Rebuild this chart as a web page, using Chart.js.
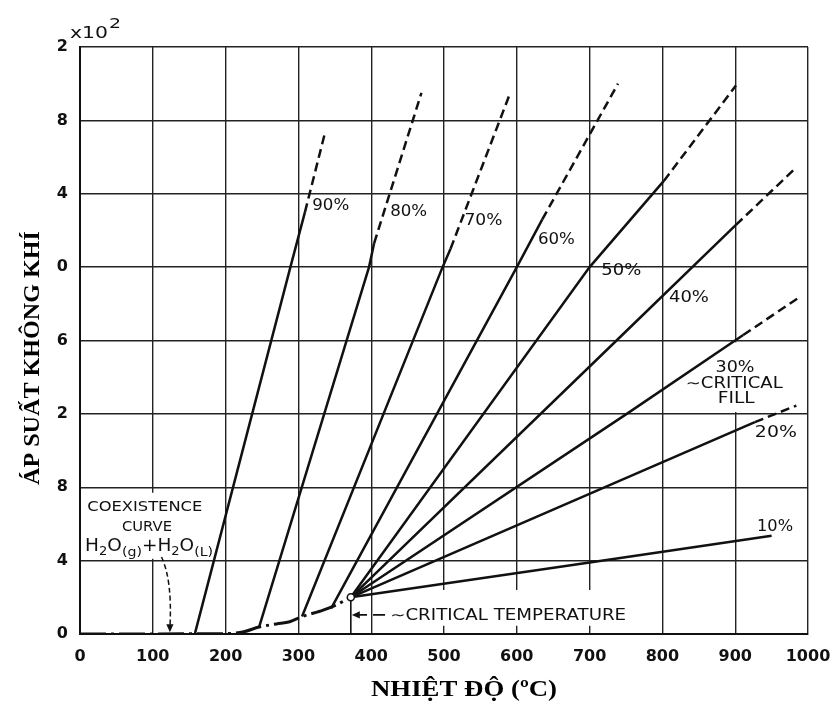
<!DOCTYPE html>
<html>
<head>
<meta charset="utf-8">
<script src="https://cdn.jsdelivr.net/npm/chart.js@4.4.1/dist/chart.umd.min.js"></script>
<style>
  html, body { margin: 0; background: #fff; }
  #wrap { width: 834px; height: 711px; }
</style>
</head>
<body>
<div id="wrap"><canvas id="chart"></canvas></div>
<script>
'use strict';

// axes
const X_MIN = 0, X_MAX = 1000, X_STEP = 100;
const Y_MIN = 0, Y_MAX = 32, Y_STEP = 4;

// coexistence curve H2O(g) + H2O(L), temperature (°C) / pressure
const COEX_T = [0, 200, 225, 246, 270, 288, 305, 334, 350, 372];
const COEX_P = [0, 0.02, 0.12, 0.38, 0.55, 0.67, 0.95, 1.3, 1.55, 2.0];

// isochores by fill
const FILL_LABELS = ['90%', '80%', '70%', '60%', '50%', '40%', '30%', '20%', '10%'];
const FILL_T = [
  [158, 289, 309, 337],
  [246, 397, 404, 469],
  [305, 498, 509, 591],
  [345, 600, 635, 739],
  [372, 700, 802, 901],
  [372, 737, 901, 983],
  [372, 751, 911, 986],
  [372, 927, 984],
  [372, 700, 950]
];
const FILL_P = [
  [0.05, 20, 23, 27.4],
  [0.38, 20, 21.3, 29.5],
  [0.95, 20, 21, 29.5],
  [1.4, 20, 22.6, 30.0],
  [2.0, 20, 24.7, 29.9],
  [2.0, 16, 22.3, 25.4],
  [2.0, 12, 16.3, 18.3],
  [2.0, 11.55, 12.45],
  [2.0, 3.9, 5.36]
];
// index of the point from which the line turns dashed (-1 = never)
const DASH_FROM = [2, 2, 2, 2, 2, 2, 2, 1, -1];

const CRIT_T = 372, CRIT_P = 2.0;

// label anchors (left edge, middle) in data units, and target widths in px
const LABEL_AT = [
  [319, 23.3], [426, 23.0], [528, 22.5], [629, 21.5], [716, 19.8],
  [809, 18.3], [873, 14.5], [927, 10.95], [930, 5.85]
];
const LABEL_W = [37, 37, 38, 37, 40, 40, 39, 42, 36];

const INK = '#111';
const el = id => document.getElementById(id);

function fitText(ctx, text, x, y, w, align) {
  const m = ctx.measureText(text).width;
  ctx.save();
  ctx.translate(x, y);
  ctx.scale(w / m, 1);
  ctx.textAlign = 'left';
  const x0 = align === 'center' ? -m / 2 : 0;
  ctx.fillText(text, x0, 0);
  ctx.restore();
}

function arrowHead(ctx, x, y, angle, size) {
  ctx.save();
  ctx.translate(x, y);
  ctx.rotate(angle);
  ctx.beginPath();
  ctx.moveTo(0, 0);
  ctx.lineTo(-size, -size * 0.45);
  ctx.lineTo(-size, size * 0.45);
  ctx.closePath();
  ctx.fill();
  ctx.restore();
}

const annotations = {
  id: 'annotations',
  beforeDatasetsDraw(chart) {
    const { ctx, scales: { x, y } } = chart;
    const box = (t0, t1, p0, p1) => {
      const l = x.getPixelForValue(t0), r = x.getPixelForValue(t1);
      const tp = y.getPixelForValue(p1), bt = y.getPixelForValue(p0);
      ctx.fillRect(l, tp, r - l, bt - tp);
    };
    ctx.save();
    ctx.fillStyle = '#fff';
    box(3, 182, 4.1, 7.7);      // coexistence text
    box(406, 760, 0.45, 2.4);   // critical temperature text
    box(830, 965, 12.1, 15.9);  // critical fill text
    ctx.restore();
  },
  afterDatasetsDraw(chart) {
    const { ctx, scales: { x, y } } = chart;
    const px = v => x.getPixelForValue(v);
    const py = v => y.getPixelForValue(v);
    ctx.save();
    ctx.fillStyle = INK;
    ctx.strokeStyle = INK;
    ctx.textBaseline = 'middle';

    // fill labels
    ctx.font = '15px "DejaVu Sans"';
    FILL_LABELS.forEach((name, i) => {
      fitText(ctx, name, px(LABEL_AT[i][0]), py(LABEL_AT[i][1]), LABEL_W[i], 'left');
    });
    fitText(ctx, '\u223CCRITICAL', px(832), py(13.6), 97, 'left');
    fitText(ctx, 'FILL', px(876), py(12.8), 37, 'left');

    // coexistence note
    ctx.font = '14px "DejaVu Sans"';
    fitText(ctx, 'COEXISTENCE', px(89), py(6.9), 115, 'center');
    fitText(ctx, 'CURVE', px(92), py(5.8), 50, 'center');
    ctx.textBaseline = 'alphabetic';
    const parts = [['H', 17, 0], ['2', 12, 4], ['O', 17, 0], ['(g)', 13, 5], ['+', 17, 0],
                   ['H', 17, 0], ['2', 12, 4], ['O', 17, 0], ['(L)', 13, 5]];
    let total = 0;
    parts.forEach(p => { ctx.font = p[1] + 'px "DejaVu Sans"'; total += ctx.measureText(p[0]).width; });
    const k = 128 / total;
    let cx = px(7);
    const base = py(4.5);
    parts.forEach(p => {
      ctx.font = p[1] + 'px "DejaVu Sans"';
      const w = ctx.measureText(p[0]).width;
      ctx.save();
      ctx.translate(cx, base + p[2]);
      ctx.scale(k, 1);
      ctx.fillText(p[0], 0, 0);
      ctx.restore();
      cx += w * k;
    });

    // coexistence arrow
    ctx.lineWidth = 1.5;
    ctx.setLineDash([5, 3]);
    ctx.beginPath();
    ctx.moveTo(px(112), py(4.2));
    ctx.quadraticCurveTo(px(127), py(2.9), px(123.5), py(0.35));
    ctx.stroke();
    ctx.setLineDash([]);
    arrowHead(ctx, px(123.5), py(0.1), Math.PI / 2, 8);

    // critical temperature
    ctx.lineWidth = 1.6;
    ctx.beginPath();
    ctx.moveTo(px(CRIT_T), py(CRIT_P) + 3);
    ctx.lineTo(px(CRIT_T), py(0));
    ctx.stroke();
    ctx.setLineDash([12, 6]);
    ctx.beginPath();
    ctx.moveTo(px(419), py(1.04));
    ctx.lineTo(px(CRIT_T) + 6, py(1.04));
    ctx.stroke();
    ctx.setLineDash([]);
    arrowHead(ctx, px(CRIT_T) + 1, py(1.04), Math.PI, 8);
    ctx.textBaseline = 'middle';
    ctx.font = '15px "DejaVu Sans"';
    fitText(ctx, '\u223CCRITICAL TEMPERATURE', px(426), py(1.0), 236, 'left');
    ctx.restore();
  },
  afterDraw(chart) {
    const { ctx } = chart;
    ctx.save();
    ctx.fillStyle = INK;
    ctx.textBaseline = 'alphabetic';
    ctx.font = '16px "DejaVu Sans"';
    fitText(ctx, 'x10', 70, 38, 38, 'left');
    ctx.font = '14px "DejaVu Sans"';
    fitText(ctx, '2', 109, 28, 12, 'left');

    ctx.fillStyle = '#000';
    ctx.textBaseline = 'middle';
    ctx.font = 'bold 23px "Liberation Serif"';
    fitText(ctx, 'NHIỆT ĐỘ (ºC)', 464, 690, 186, 'center');
    ctx.save();
    ctx.translate(33, 358);
    ctx.rotate(-Math.PI / 2);
    fitText(ctx, 'ÁP SUẤT KHÔNG KHÍ', 0, 0, 254, 'center');
    ctx.restore();
    ctx.restore();
  }
};

Chart.defaults.font.family = '"DejaVu Sans"';
Chart.defaults.color = INK;

const datasets = [
  {
    label: 'critical point',
    data: [{ x: CRIT_T, y: CRIT_P }],
    showLine: false,
    pointRadius: 3.5,
    pointBackgroundColor: '#fff',
    pointBorderColor: INK,
    pointBorderWidth: 1.5,
    order: -1
  },
  {
    label: 'coexistence',
    data: COEX_T.map((t, j) => ({ x: t, y: COEX_P[j] })),
    showLine: true,
    borderColor: INK,
    borderWidth: 3,
    borderDash: [26, 5, 3, 5],
    cubicInterpolationMode: 'monotone',
    pointRadius: 0
  },
  ...FILL_LABELS.map((name, i) => ({
    label: name,
    data: FILL_T[i].map((t, j) => ({ x: t, y: FILL_P[i][j] })),
    showLine: true,
    borderColor: INK,
    borderWidth: 2.5,
    pointRadius: 0,
    segment: {
      borderDash: ctx => (DASH_FROM[i] >= 0 && ctx.p0DataIndex >= DASH_FROM[i]) ? [9, 5] : undefined
    }
  }))
];

const axisCommon = {
  type: 'linear',
  grid: { color: '#222', lineWidth: 1.4, drawTicks: false },
  border: { display: true, color: INK, width: 2 },
  ticks: { font: { size: 16, weight: 'bold' }, color: INK, padding: 12 }
};

new Chart(el('chart'), {
  type: 'scatter',
  data: { datasets },
  options: {
    responsive: true,
    maintainAspectRatio: false,
    animation: false,
    devicePixelRatio: 1,
    layout: { padding: { top: 47, right: 26, left: 0, bottom: 0 } },
    plugins: { legend: { display: false }, tooltip: { enabled: false } },
    scales: {
      x: {
        ...axisCommon,
        min: X_MIN, max: X_MAX,
        ticks: { ...axisCommon.ticks, stepSize: X_STEP, padding: 13, callback: v => String(v) },
        afterFit: s => { s.height = 77; s.paddingLeft = 0; s.paddingRight = 0; }
      },
      y: {
        ...axisCommon,
        min: Y_MIN, max: Y_MAX,
        ticks: { ...axisCommon.ticks, stepSize: Y_STEP, padding: 12, callback: v => String(v % 10) },
        afterFit: s => { s.width = 80; s.paddingTop = 0; s.paddingBottom = 0; }
      }
    }
  },
  plugins: [annotations]
});
</script>
</body>
</html>
